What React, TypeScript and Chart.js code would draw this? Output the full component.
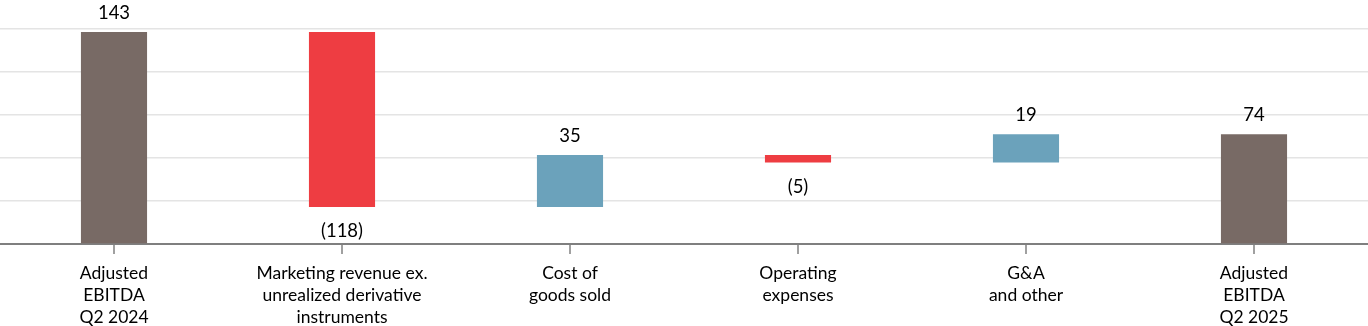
import React, { useEffect, useRef } from "react";
import { Chart, registerables } from "chart.js";

Chart.register(...registerables);

const categories: string[][] = [
  ["Adjusted", "EBITDA", "Q2 2024"],
  ["Marketing revenue ex.", "unrealized derivative", "instruments"],
  ["Cost of", "goods sold"],
  ["Operating", "expenses"],
  ["G&A", "and other"],
  ["Adjusted", "EBITDA", "Q2 2025"],
];
const values = [143, -118, 35, -5, 19, 74];
const kinds = ["total", "delta", "delta", "delta", "delta", "total"];
const valueLabels = ["143", "(118)", "35", "(5)", "19", "74"];
const gridTicks = [0, 29, 58, 87, 116, 145];

const TOTAL_COLOR = "#786a65";
const UP_COLOR = "#6ba2bb";
const DOWN_COLOR = "#ee3d42";
const FONT = "Lato, 'Noto Sans', sans-serif";

export default function App() {
  const ref = useRef<HTMLCanvasElement | null>(null);

  useEffect(() => {
    if (!ref.current) return;
    let running = 0;
    const floats: [number, number][] = values.map((v, i) => {
      if (kinds[i] === "total") {
        running = v;
        return [0, v];
      }
      const s = running;
      running += v;
      return [s, running];
    });
    const colors = values.map((v, i) =>
      kinds[i] === "total" ? TOTAL_COLOR : v >= 0 ? UP_COLOR : DOWN_COLOR
    );

    const labelPlugin = {
      id: "valueLabels",
      afterDatasetsDraw(chart: any) {
        const ctx = chart.ctx;
        const meta = chart.getDatasetMeta(0);
        ctx.save();
        ctx.font = `18.5px ${FONT}`;
        ctx.fillStyle = "#000";
        ctx.textAlign = "center";
        meta.data.forEach((el: any, i: number) => {
          const top = Math.min(el.y, el.base);
          const bottom = Math.max(el.y, el.base);
          if (values[i] >= 0) {
            ctx.textBaseline = "bottom";
            ctx.fillText(valueLabels[i], el.x, top - 10);
          } else {
            ctx.textBaseline = "top";
            ctx.fillText(valueLabels[i], el.x, bottom + 15);
          }
        });
        ctx.restore();
      },
    };

    const chart = new Chart(ref.current, {
      type: "bar",
      data: {
        labels: categories,
        datasets: [
          {
            data: floats as any,
            backgroundColor: colors,
            borderWidth: 0,
            categoryPercentage: 1,
            barPercentage: 0.29,
          },
        ],
      },
      options: {
        animation: false,
        responsive: true,
        maintainAspectRatio: false,
        layout: { padding: { top: 29, left: 0, right: 0, bottom: 0 } },
        plugins: {
          legend: { display: false },
          tooltip: { enabled: false },
        },
        scales: {
          x: {
            grid: {
              display: true,
              drawOnChartArea: false,
              drawTicks: true,
              tickLength: 10,
              offset: false,
              color: "#a0a0a0",
              lineWidth: 2,
            },
            border: { display: true, color: "#7f7f7f", width: 2 },
            ticks: {
              font: { family: FONT, size: 17.5, lineHeight: 22 / 17.5 },
              color: "#000",
              padding: 8.5,
              maxRotation: 0,
              autoSkip: false,
            },
            afterFit: (scale: any) => {
              scale.height = 82;
            },
          },
          y: {
            min: 0,
            max: 145,
            afterBuildTicks: (scale: any) => {
              scale.ticks = gridTicks.map((v) => ({ value: v }));
            },
            ticks: { display: false },
            grid: {
              drawTicks: false,
              tickLength: 0,
              color: (c: any) => (c.tick && c.tick.value === 0 ? "rgba(0,0,0,0)" : "#e4e4e4"),
              lineWidth: 1.5,
            },
            border: { display: false },
          },
        },
      },
      plugins: [labelPlugin],
    });
    return () => chart.destroy();
  }, []);

  return (
    <div style={{ position: "fixed", left: 0, top: 0, width: 1368, height: 326, background: "#fff" }}>
      <canvas ref={ref} />
    </div>
  );
}
